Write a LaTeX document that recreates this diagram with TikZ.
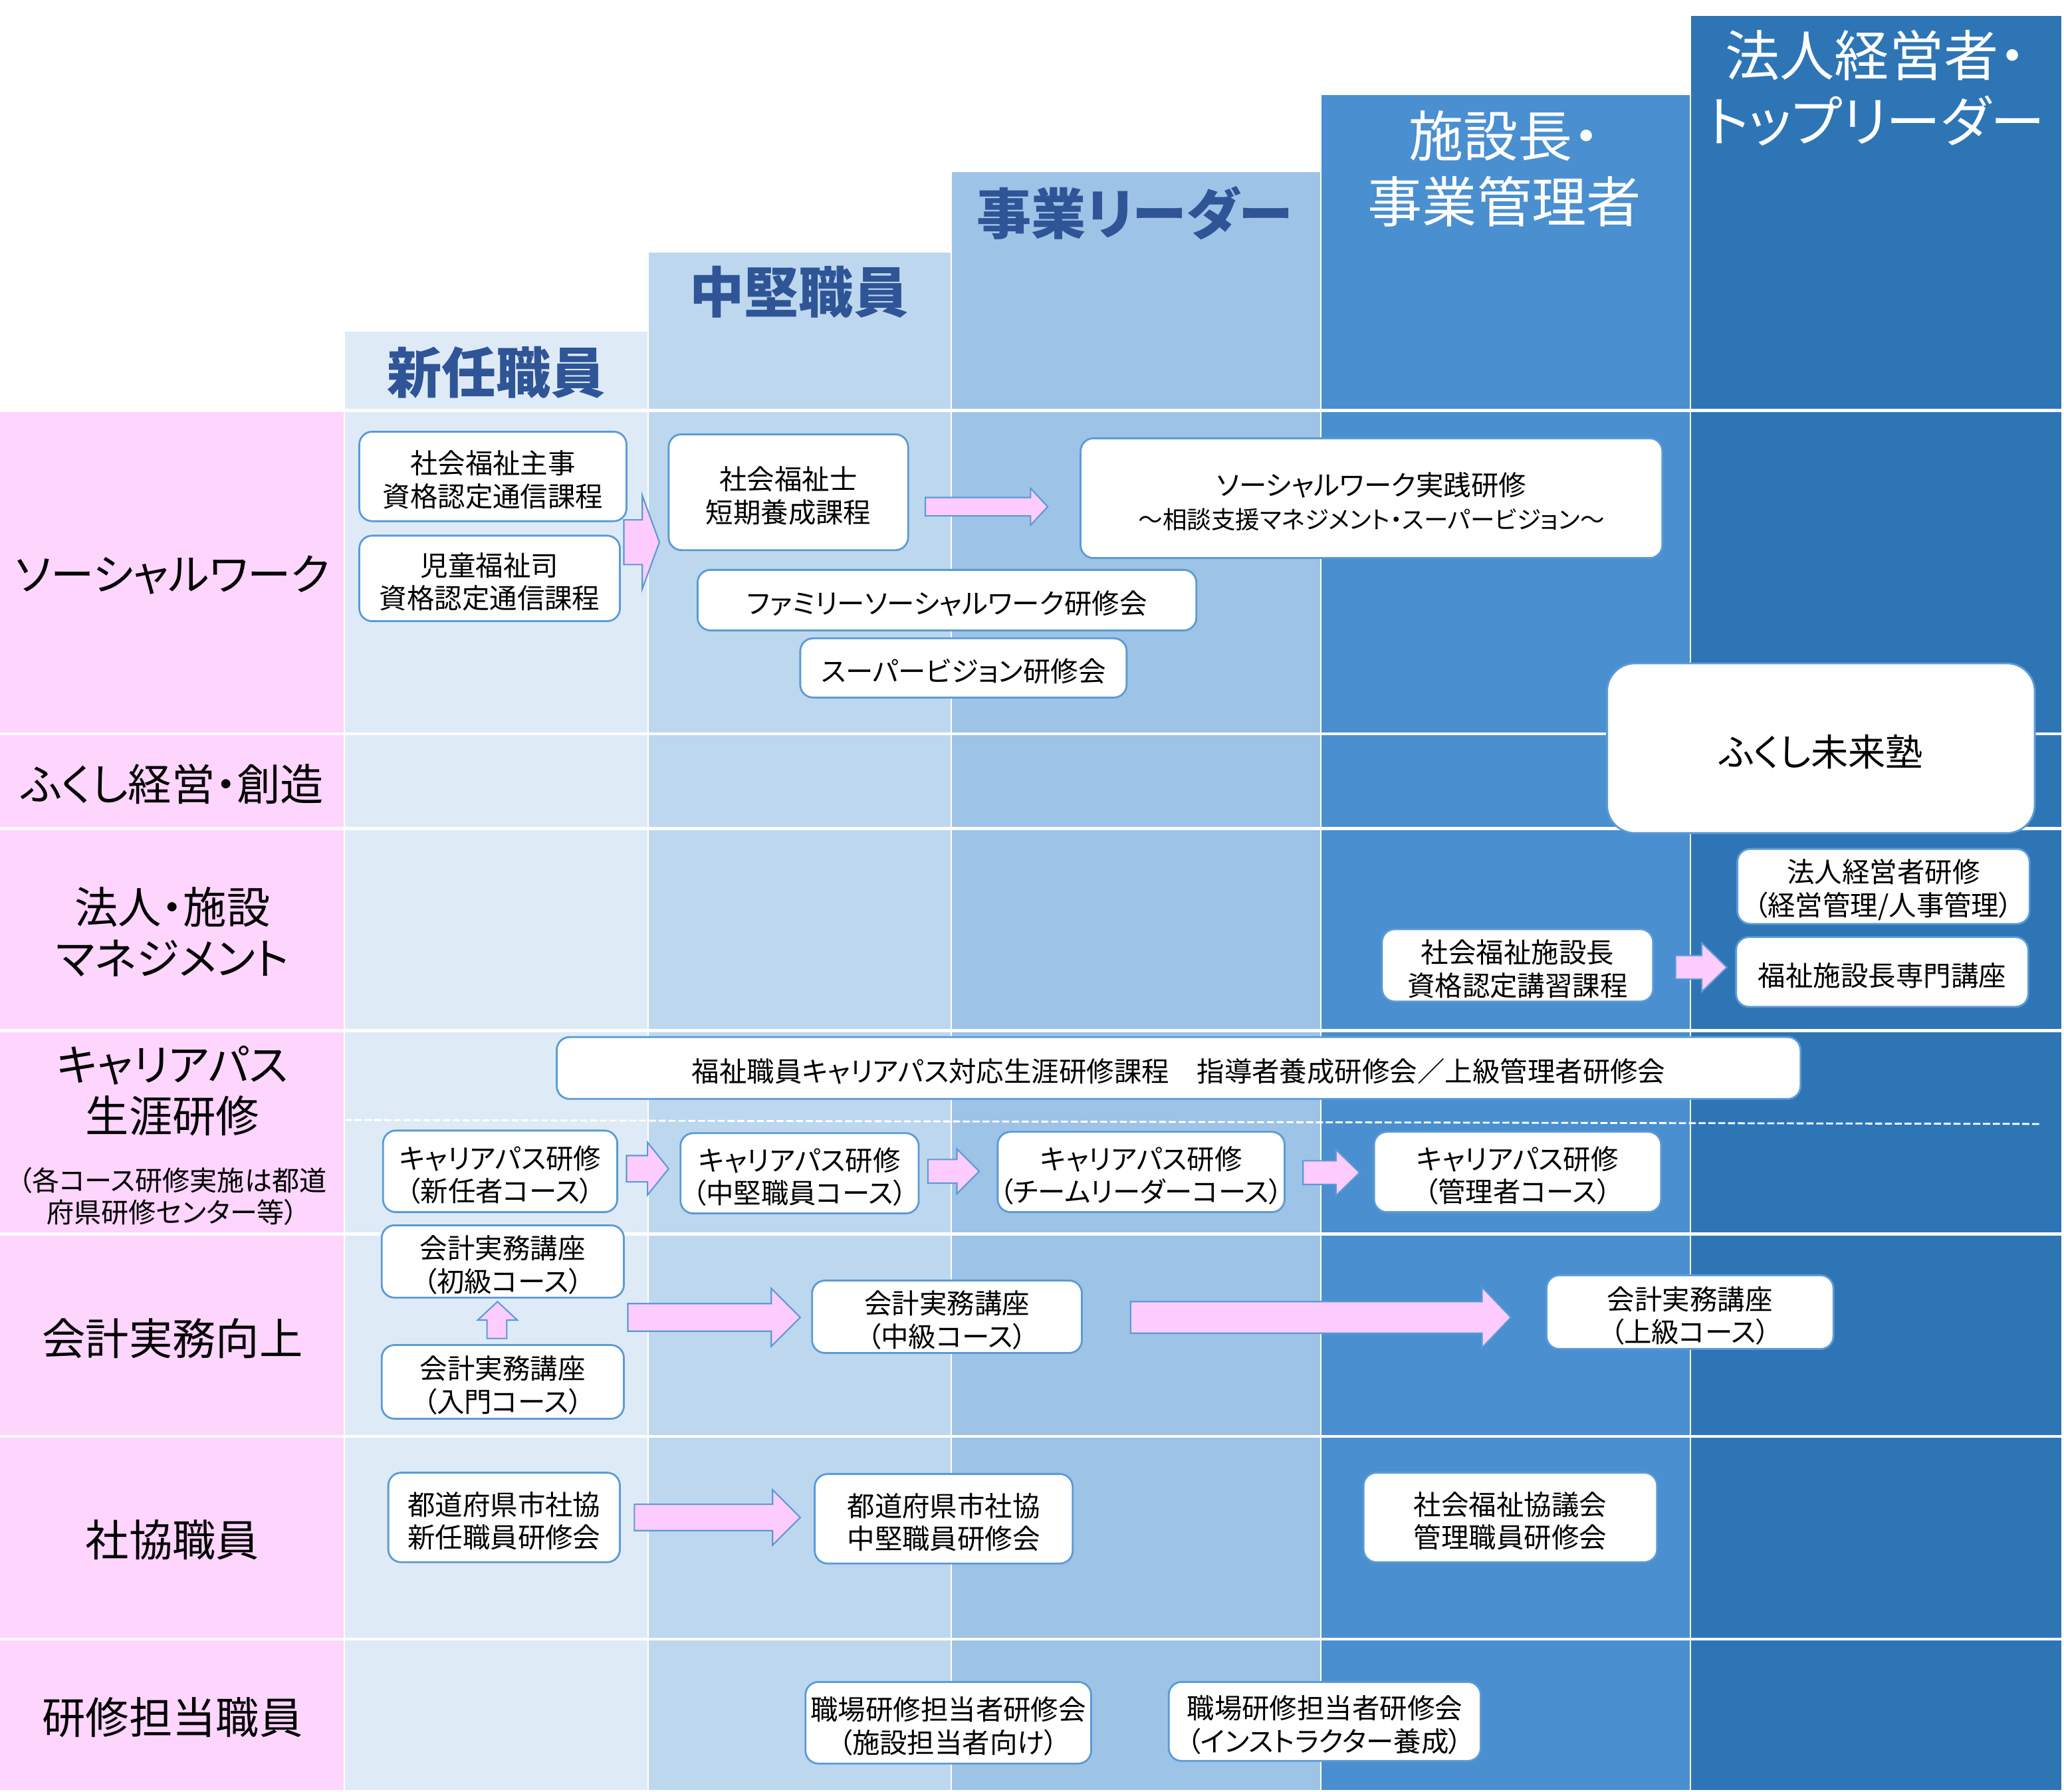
\documentclass[tikz,border=0pt]{standalone}
\usepackage{fontspec}
\setmainfont{Noto Sans CJK JP}[RawFeature=+palt]
\usetikzlibrary{fit}

\definecolor{pinkcol}{HTML}{FDD5FD}
\definecolor{colA}{HTML}{DEEBF7}
\definecolor{colB}{HTML}{BDD7EE}
\definecolor{colC}{HTML}{9DC3E6}
\definecolor{colD}{HTML}{4A8FD0}
\definecolor{colE}{HTML}{2E75B6}
\definecolor{headblue}{HTML}{2F5597}
\definecolor{boxline}{HTML}{5B9BD5}
\definecolor{arrowpink}{HTML}{FFCCFF}

\tikzset{
	box/.style={draw=boxline, fill=white, line width=0.8pt, rounded corners=5.5pt, inner sep=0pt},
	bigbox/.style={box, rounded corners=12pt},
	boxtext/.style={align=center, inner sep=0pt, yshift=-1.5pt, font=\fontsize{11.8}{14.1}\selectfont},
	pinkarrow/.style={draw=boxline, fill=arrowpink, line width=0.6pt, line join=miter},
	head/.style={align=center, font=\fontsize{23.4}{28.2}\selectfont},
	rowlabel/.style={align=center, font=\fontsize{18.6}{22}\selectfont},
	sep/.style={white, line width=1.3pt}
}
\newcommand{\rarrow}[6]{\draw[pinkarrow] (#1,{#4-#5}) -- (#3,{#4-#5}) -- (#3,{#4-#6}) -- (#2,#4) -- (#3,{#4+#6}) -- (#3,{#4+#5}) -- (#1,{#4+#5}) -- cycle;}
\newcommand{\course}[5][box]{\node[#1, fit={#3}] (#2) {}; \node[boxtext] (#2 text) at (#2.center) {#4#5};}

\begin{document}
\begin{tikzpicture}[x=0.0198cm, y=-0.0198cm]
	\useasboundingbox (0,0) rectangle (1568.2,1361.6);
	\fill[pinkcol] (0,313) rectangle (261,1360);
	\fill[colA] (262,252) rectangle (492,1360);
	\fill[colB] (493,192) rectangle (722,1360);
	\fill[colC] (723,131) rectangle (1003,1360);
	\fill[colD] (1004,72) rectangle (1284,1360);
	\fill[colE] (1285,12) rectangle (1566,1360);
	\foreach \y in {312,557.5,629.5,783,937.5,1091.5,1245.5}
		\draw[sep] (0,\y) -- (1566,\y);
	\draw[white, line width=0.8pt, dash pattern=on 3pt off 1.2pt] (262,851) -- (1550,854);

	\node[head, text=headblue, font=\fontsize{23.4}{28.2}\selectfont\bfseries] (shinnin) at (377,283) {新任職員};
	\node[head, text=headblue, font=\fontsize{23.4}{28.2}\selectfont\bfseries] (chuken) at (607,222) {中堅職員};
	\node[head, text=headblue, font=\fontsize{23.4}{28.2}\selectfont\bfseries] (leader) at (862,162) {事業リーダー};
	\node[head, text=white] (shisetsu) at (1143,128) {施設長・\\事業管理者};
	\node[head, text=white] (top) at (1425,67) {法人経営者・\\トップリーダー};

	\node[rowlabel] (sw) at (131,437) {ソーシャルワーク};
	\node[rowlabel] (keiei) at (131,596) {ふくし経営・創造};
	\node[rowlabel] (manage) at (131,708) {法人・施設\\マネジメント};
	\node[rowlabel] (career) at (131,829) {キャリアパス\\生涯研修};
	\node[align=center, font=\fontsize{11.7}{13.5}\selectfont] (careernote) at (131,909) {（各コース研修実施は都道\\府県研修センター等）};
	\node[rowlabel] (kaikei) at (131,1017) {会計実務向上};
	\node[rowlabel] (shakyo) at (131,1170) {社協職員};
	\node[rowlabel] (tanto) at (131,1305) {研修担当職員};

	\rarrow{474}{501}{488}{412}{17}{35.5}
	\rarrow{703}{796}{783}{385}{7}{14}
	\rarrow{1273}{1312}{1293}{735}{9}{18.5}
	\rarrow{476}{508}{492}{888}{10}{20}
	\rarrow{705}{744}{727}{890}{9}{17}
	\rarrow{990}{1033}{1015}{891}{9}{17.5}
	\rarrow{477}{608}{586}{1001}{10.5}{22}
	\rarrow{859}{1148}{1126}{1001}{12}{23}
	\rarrow{482}{608}{587}{1153}{10}{21}
	\draw[pinkarrow] (370,1017) -- (370,1003) -- (363,1003) -- (378,989) -- (393,1003) -- (385,1003) -- (385,1017) -- cycle;

	\course{shuji}{(273,328) (476,396)}{}{社会福祉主事\\資格認定通信課程}
	\course{jido}{(273,407) (471,472)}{}{児童福祉司\\資格認定通信課程}
	\course{fukushishi}{(508,330) (690,418)}{}{社会福祉士\\短期養成課程}
	\course{swjissen}{(821,333) (1263,424)}{}{ソーシャルワーク実践研修\\{\fontsize{10.4}{14.1}\selectfont ～相談支援マネジメント・スーパービジョン～}}
	\course{family}{(530,433) (909,479)}{}{ファミリーソーシャルワーク研修会}
	\course{supervision}{(608,485) (856,530)}{}{スーパービジョン研修会}
	\course[bigbox]{mirai}{(1221,504) (1546,633)}{\fontsize{16}{19}\selectfont}{ふくし未来塾}
	\course{keieisha}{(1320,645) (1542,702)}{}{法人経営者研修\\（経営管理/人事管理）}
	\course{senmon}{(1319,712) (1541,765)}{}{福祉施設長専門講座}
	\course{shisetsucho}{(1050,706) (1256,761)}{}{社会福祉施設長\\資格認定講習課程}
	\course{shogai}{(423,788) (1368,835)}{}{福祉職員キャリアパス対応生涯研修課程　指導者養成研修会／上級管理者研修会}
	\course{cpshinnin}{(291,859) (469,921)}{}{キャリアパス研修\\（新任者コース）}
	\course{cpchuken}{(517,861) (698,922)}{}{キャリアパス研修\\（中堅職員コース）}
	\course{cpteam}{(758,860) (976,921)}{}{キャリアパス研修\\（チームリーダーコース）}
	\course{cpkanri}{(1044,860) (1262,921)}{}{キャリアパス研修\\（管理者コース）}
	\course{kaikeisho}{(290,931) (474,986)}{}{会計実務講座\\（初級コース）}
	\course{kaikeinyu}{(290,1022) (474,1078)}{}{会計実務講座\\（入門コース）}
	\course{kaikeichu}{(617,973) (822,1028)}{}{会計実務講座\\（中級コース）}
	\course{kaikeijo}{(1175,969) (1393,1025)}{}{会計実務講座\\（上級コース）}
	\course{shakyoshin}{(295,1119) (471,1187)}{}{都道府県市社協\\新任職員研修会}
	\course{shakyochu}{(619,1120) (815,1188)}{}{都道府県市社協\\中堅職員研修会}
	\course{shakyokanri}{(1036,1119) (1259,1187)}{}{社会福祉協議会\\管理職員研修会}
	\course{tantoshisetsu}{(612,1278) (829,1340)}{}{職場研修担当者研修会\\（施設担当者向け）}
	\course{tantoinst}{(888,1278) (1125,1338)}{}{職場研修担当者研修会\\（インストラクター養成）}

\end{tikzpicture}
\end{document}
